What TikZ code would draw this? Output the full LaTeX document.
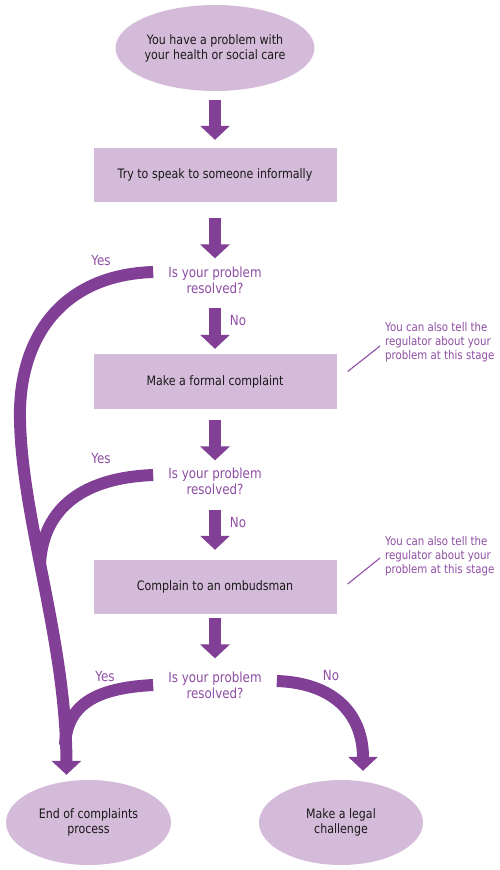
\documentclass[tikz,border=0pt]{standalone}
\usepackage{fontspec}
\setmainfont{DejaVu Sans}[FakeStretch=0.85]
\usetikzlibrary{arrows.meta,positioning,shapes.geometric}
\definecolor{cFill}{HTML}{D5BBDA}
\definecolor{cArrow}{HTML}{823F96}
\definecolor{cText}{HTML}{8E4DA3}

\begin{document}
\begin{tikzpicture}[x=1pt,y=-1pt,
  oval/.style={ellipse,fill=cFill,minimum width=164pt,minimum height=86pt,inner sep=0pt,align=center,text=black!90,font=\fontsize{13}{15}\selectfont},
  box/.style={rectangle,fill=cFill,minimum width=243pt,minimum height=54pt,inner sep=0pt,align=center,text=black!90,font=\fontsize{13}{15}\selectfont},
  ask/.style={inner sep=0pt,align=center,text=cText,font=\fontsize{14}{16}\selectfont},
  lbl/.style={inner sep=0pt,text=cText,font=\fontsize{14}{16}\selectfont},
  note/.style={inner sep=0pt,align=left,anchor=north west,text=cText,font=\fontsize{12}{14}\selectfont},
  arr/.style={draw=cArrow,line width=12pt,-{Triangle[length=14pt,width=29pt]}},
  branch/.style={draw=cArrow,line width=12pt},
  pointer/.style={draw=cText,line width=1.1pt}
]
\useasboundingbox (0,0) rectangle (499,870);
\node[oval] (start) at (215,48) {You have a problem with\\your health or social care};
\node[box] (talk) at (215,175) {Try to speak to someone informally};
\node[ask] (q1) at (215,280) {Is your problem\\resolved?};
\node[box,minimum height=55pt] (formal) at (215,381.5) {Make a formal complaint};
\node[ask] (q2) at (215,481) {Is your problem\\resolved?};
\node[box] (ombud) at (215,587) {Complain to an ombudsman};
\node[ask] (q3) at (215,685) {Is your problem\\resolved?};
\node[oval,minimum width=165pt,minimum height=85pt] (finish) at (88.5,822.5) {End of complaints\\process};
\node[oval,minimum height=85pt] (legal) at (341,822.5) {Make a legal\\challenge};
\node[note] (tell1) at (385,322) {You can also tell the\\regulator about your\\problem at this stage};
\node[note] (tell2) at (385,536) {You can also tell the\\regulator about your\\problem at this stage};
\node[lbl] (yes1) at (101,260) {Yes};
\node[lbl] (no1) at (238,320) {No};
\node[lbl] (yes2) at (101,458) {Yes};
\node[lbl] (no2) at (238,522) {No};
\node[lbl] (yes3) at (105,676) {Yes};
\node[lbl] (no3) at (331,675) {No};
\draw[arr,shorten <=9pt,shorten >=8pt] (start) -- (talk);
\draw[arr,shorten <=16pt,shorten >=8pt] (talk) -- (q1);
\draw[arr,shorten <=14pt,shorten >=5pt] (q1) -- (formal);
\draw[arr,shorten <=11pt,shorten >=7pt] (formal) -- (q2);
\draw[arr,shorten <=15pt,shorten >=10pt] (q2) -- (ombud);
\draw[arr,shorten <=4pt,shorten >=13pt] (ombud) -- (q3);
\draw[branch] ([xshift=-15pt,yshift=6pt]q2.west) .. controls (75,478) and (42,515) .. (40,565);
\draw[branch] ([xshift=-15pt]q3.west) .. controls (95,688) and (67,705) .. (65,745);
\draw[arr] ([xshift=-15pt,yshift=8pt]q1.west) .. controls (60,275) and (18,340) .. (20,420)
  .. controls (22,520) and (66,640) .. ([xshift=-22pt,yshift=5pt]finish.north);
\draw[arr] ([xshift=15pt,yshift=4pt]q3.east) .. controls (335,683) and (363,715) .. ([xshift=22pt,yshift=9pt]legal.north);
\draw[pointer] ([xshift=11pt,yshift=10pt]formal.east) -- ([xshift=-5pt,yshift=-4pt]tell1.west);
\draw[pointer] ([xshift=11pt,yshift=3pt]ombud.east) -- ([xshift=-5pt,yshift=-2pt]tell2.west);
\end{tikzpicture}
\end{document}
